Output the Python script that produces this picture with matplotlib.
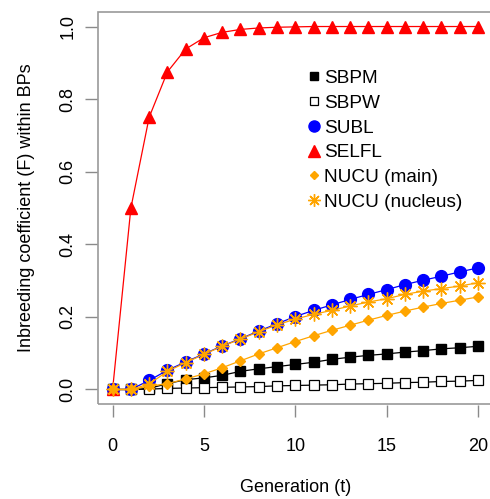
import matplotlib
matplotlib.use("Agg")
import matplotlib.pyplot as plt
from matplotlib.lines import Line2D
from matplotlib.patches import Rectangle

plt.rcParams['font.family'] = ['Liberation Sans', 'DejaVu Sans']

# generations
gen = list(range(21))

# inbreeding coefficient
sbpm = [0.0, 0.0, 0.003, 0.016, 0.027, 0.032, 0.039, 0.05, 0.057, 0.063, 0.069,
        0.075, 0.083, 0.089, 0.094, 0.098, 0.103, 0.107, 0.112, 0.115, 0.119]
sbpw = [0.0, 0.0, 0.001, 0.003, 0.004, 0.005, 0.006, 0.007, 0.008, 0.010, 0.011,
        0.012, 0.013, 0.015, 0.016, 0.017, 0.019, 0.020, 0.022, 0.023, 0.025]
subl = [0.0, 0.0, 0.025, 0.053, 0.076, 0.098, 0.12, 0.14, 0.161, 0.181, 0.201,
        0.218, 0.233, 0.248, 0.262, 0.275, 0.289, 0.301, 0.312, 0.324, 0.335]
selfl = [0.0, 0.5, 0.75, 0.875, 0.938, 0.969, 0.984, 0.992, 0.996, 0.998, 0.999,
         1.0, 1.0, 1.0, 1.0, 1.0, 1.0, 1.0, 1.0, 1.0, 1.0]
nucu_main = [0.0, 0.0, 0.009, 0.016, 0.029, 0.043, 0.06, 0.079, 0.098, 0.115, 0.132,
             0.148, 0.163, 0.177, 0.191, 0.204, 0.216, 0.227, 0.237, 0.246, 0.255]
nucu_nucl = [0.0, 0.0, 0.015, 0.05, 0.074, 0.097, 0.119, 0.139, 0.159, 0.178, 0.194,
             0.207, 0.218, 0.23, 0.241, 0.25, 0.262, 0.271, 0.278, 0.285, 0.294]

labels = ['SBPM', 'SBPW', 'SUBL', 'SELFL', 'NUCU (main)', 'NUCU (nucleus)']
xticks = [0, 5, 10, 15, 20]
yticks = [0.0, 0.2, 0.4, 0.6, 0.8, 1.0]

orange = '#FFA500'
styles = [
    dict(color='black', marker='s', ms=6.5, mfc='black', mec='black'),
    dict(color='black', marker='s', ms=7.5, mfc='white', mec='black', mew=0.9),
    dict(color='#0000FF', marker='o', ms=8.5, mfc='#0000FF', mec='#0000FF'),
    dict(color='#FF0000', marker='^', ms=8.5, mfc='#FF0000', mec='#FF0000'),
    dict(color=orange, marker='D', ms=5, mfc=orange, mec=orange),
    dict(color=orange, marker=(8, 2, 0), ms=10, mfc=orange, mec=orange, mew=1.0),
]
series = [sbpm, sbpw, subl, selfl, nucu_main, nucu_nucl]

fig = plt.figure(figsize=(4.9, 4.99), dpi=100)
ax = fig.add_axes([98 / 490, 95 / 499, 394.6 / 490, 392 / 499])

for vals, st in zip(series, styles):
    ax.plot(gen, vals, lw=0.9, zorder=3, **st)

ax.set_xlim(-0.8, 20.8)
ax.set_ylim(-0.04, 1.04)
ax.set_xticks(xticks)
ax.set_xticklabels([str(t) for t in xticks])
ax.set_yticks(yticks)
ax.set_yticklabels(['%.1f' % v for v in yticks])

# R-like look: grey box, detached ticks
for s in ax.spines.values():
    s.set_visible(False)
ax.spines['bottom'].set_position(('outward', 1))
ax.spines['left'].set_position(('outward', 1))
ax.add_patch(Rectangle((0, 0), 1, 1, transform=ax.transAxes, fill=False,
                       edgecolor='#9a9a9a', lw=1.2, clip_on=False, zorder=1))
ax.tick_params(axis='both', direction='out', length=8.5, width=1.0,
               color='#8a8a8a', labelsize=13)
ax.tick_params(axis='x', pad=15)
ax.tick_params(axis='y', pad=6, labelrotation=90)
for t in ax.get_yticklabels():
    t.set_va('center')

ax.set_xlabel('Generation (t)', fontsize=13)
ax.xaxis.set_label_coords(0.5, -0.214)
ax.xaxis.label.set_va('center')
ax.set_ylabel('Inbreeding coefficient (F) within BPs', fontsize=13)
ax.yaxis.set_label_coords(-0.18, 0.5)
ax.yaxis.label.set_va('center')

handles = [Line2D([], [], ls='none', **{k: v for k, v in st.items() if k != 'color'})
           for st in styles]
handles[0].set_markersize(5.5)
handles[1].set_markersize(6)
handles[2].set_markersize(8)
handles[3].set_markersize(8.5)
handles[4].set_markersize(4.5)
handles[5].set_markersize(9)
ax.legend(handles, labels, loc='upper left', bbox_to_anchor=(0.513, 0.872),
          frameon=False, fontsize=13.7, handlelength=0.6, handletextpad=0.25,
          labelspacing=0.39, borderaxespad=0)

fig.savefig('out.png', dpi=100)
